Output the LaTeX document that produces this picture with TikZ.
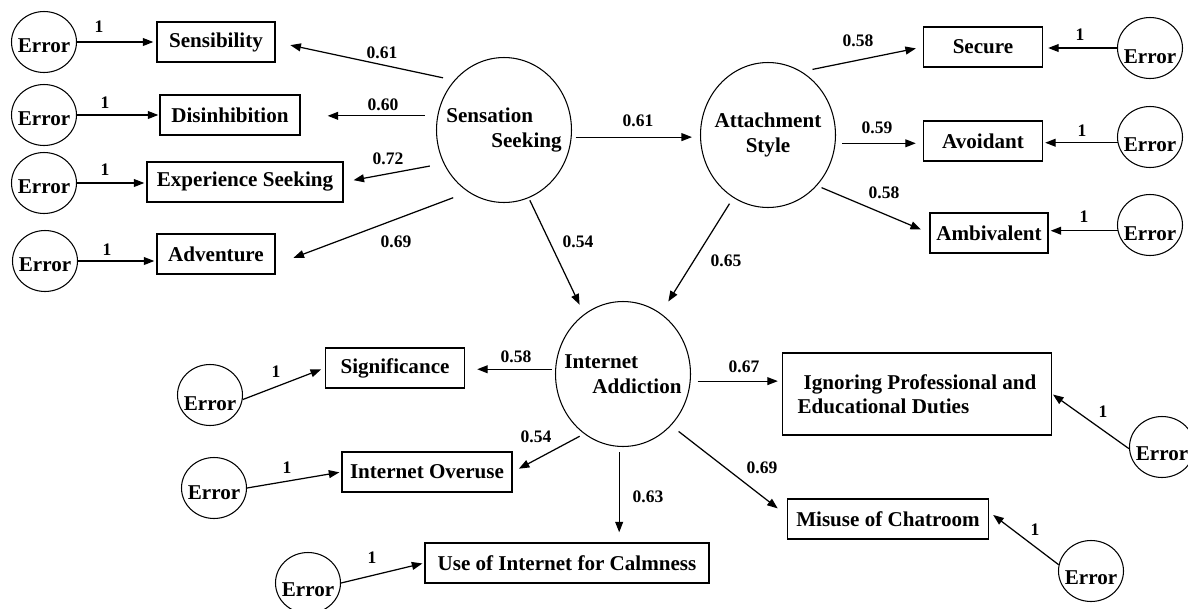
\documentclass[tikz,border=0pt]{standalone}
\usepackage{fontspec}
\setmainfont{Liberation Serif}
\usetikzlibrary{shapes.geometric,arrows.meta}

\tikzset{
  box/.style={draw, line width=0.8pt, rectangle, minimum height=0.8cm, inner sep=2pt, font=\fontsize{12}{14}\selectfont\bfseries},
  lat/.style={draw, line width=0.6pt, ellipse, minimum width=2.7cm, minimum height=2.9cm, inner sep=0pt},
  lattxt/.style={font=\fontsize{12}{14}\selectfont\bfseries, inner sep=0pt},
  err/.style={draw, line width=0.6pt, ellipse, minimum width=1.3cm, minimum height=1.22cm, inner sep=0pt, font=\fontsize{12}{14}\selectfont\bfseries},
  coef/.style={font=\fontsize{10}{12}\selectfont\bfseries, inner sep=0pt},
  arr/.style={line width=0.7pt, -{Triangle[length=6pt,width=4.5pt]}}
}
% text of an error term, lowered a little
\newcommand{\errtxt}[1][-0.2cm]{\raisebox{#1}[0pt][0pt]{\makebox[0pt]{Error}}}

\begin{document}
\begin{tikzpicture}[x=0.02cm, y=-0.02cm]
\useasboundingbox (0,0) rectangle (1188,609);

% latent variables
\node [lat, label={[lattxt, align=left]center:{Sensation\\\hspace*{0.9cm}Seeking}}] (ss) at (504,130) {};
\node [lat, label={[lattxt, align=center]center:{Attachment\\Style}}] (as) at (768,135) {};
\node [lat, label={[lattxt, align=left]center:{Internet\\\hspace*{0.56cm}Addiction}}] (ia) at (623,374) {};

% indicators
\node [box, minimum width=2.36cm] (sens) at (216,42) {Sensibility};
\node [box, minimum width=2.8cm] (dis) at (230,115) {Disinhibition};
\node [box, minimum width=3.92cm] (es) at (245,182) {Experience Seeking};
\node [box, minimum width=2.36cm] (adv) at (216,254) {Adventure};

\node [box, minimum width=2.38cm] (sec) at (983,47) {Secure};
\node [box, minimum width=2.38cm] (avo) at (983,141) {Avoidant};
\node [box, minimum width=2.36cm] (amb) at (989,233) {Ambivalent};

\node [box, minimum width=2.78cm] (sig) at (395,368) {Significance};
\node [box, minimum width=3.4cm] (ov) at (427,472) {Internet Overuse};
\node [box, minimum width=5.68cm] (calm) at (567,563) {Use of Internet for Calmness};
\node [box, minimum width=5.38cm, minimum height=1.64cm, align=left] (ign) at (917,394) {\hspace*{0.12cm}Ignoring Professional and\\Educational Duties};
\node [box, minimum width=4.02cm] (mis) at (888,519) {Misuse of Chatroom};

% error terms
\node [err] (el1) at (44,42) {\errtxt};
\node [err] (el2) at (44,115) {\errtxt};
\node [err] (el3) at (44,183) {\errtxt};
\node [err] (el4) at (45,261) {\errtxt};

\node [err] (er1) at (1150,48) {\errtxt[-0.3cm]};
\node [err] (er2) at (1150,137) {\errtxt[-0.28cm]};
\node [err] (er3) at (1150,225) {\errtxt[-0.3cm]};

\node [err] (es1) at (210,395) {\errtxt[-0.3cm]};
\node [err] (es2) at (214,488) {\errtxt[-0.22cm]};
\node [err] (es3) at (308,583) {\errtxt[-0.26cm]};
\node [err] (es4) at (1162,447) {\errtxt[-0.26cm]};
\node [err] (es5) at (1091,571) {\errtxt[-0.26cm]};

% % % % % % % % % % % % % % % % % % % % % % % % % %

\draw [arr, shorten <=0.23cm, shorten >=0.3cm] (ss.135) -- (sens.east);
\draw [arr, shorten <=0.25cm, shorten >=0.54cm] (ss.168) -- (ss.168 -| dis.east);
\draw [arr, shorten <=0.28cm, shorten >=0.2cm] (ss.209) -- (es.east);
\draw [arr, shorten <=0.32cm, shorten >=0.38cm] (ss.240) -- (adv.-10);
\draw [arr, shorten <=0.08cm, shorten >=0.16cm] (ss.-6) -- (ss.-6 -| as.west);
\draw [arr, shorten <=0.05cm, shorten >=0.21cm] (ss.-70) -- (ia.123);

\draw [arr, shorten <=0.14cm, shorten >=0.28cm] (as.241) -- (ia.58);
\draw [arr, shorten <=0.22cm, shorten >=0.14cm] (as.62) -- (sec.west);
\draw [arr, shorten <=0.13cm, shorten >=0.14cm] (as.-7) -- (as.-7 -| avo.west);
\draw [arr, shorten <=0.1cm, shorten >=0.18cm] (as.-46) -- (amb.west);

\draw [arr, shorten <=0.07cm, shorten >=0.24cm] (ia.176) -- (ia.176 -| sig.east);
\draw [arr, shorten <=0.1cm, shorten >=0.14cm] (ia.237) -- (ov.east);
\draw [arr, shorten <=0.11cm, shorten >=0.2cm] (ia.267) -- (ia.267 |- calm.north);
\draw [arr, shorten <=0.14cm, shorten >=0.08cm] (ia.-6) -- (ia.-6 -| ign.west);
\draw [arr, shorten <=0.19cm, shorten >=0.23cm] (ia.-47) -- (mis.178);

\draw [arr, shorten >=0.06cm] (el1.east) -- (el1.east -| sens.west);
\draw [arr, shorten >=0.02cm] (el2.east) -- (el2.east -| dis.west);
\draw [arr, shorten >=0.04cm] (el3.east) -- (el3.east -| es.west);
\draw [arr, shorten >=0.04cm] (el4.east) -- (el4.east -| adv.west);

\draw [arr, shorten >=0.1cm] (er1.west) -- (er1.west -| sec.east);
\draw [arr, shorten >=0.04cm] (er2.190) -- (er2.190 -| avo.east);
\draw [arr, shorten >=0.04cm] (er3.190) -- (er3.190 -| amb.east);

\draw [arr, shorten >=0.08cm] (es1.-8) -- (sig.west);
\draw [arr, shorten >=0.04cm] (es2.east) -- (ov.west);
\draw [arr, shorten >=0.04cm] (es3.east) -- (calm.west);
\draw [arr, shorten >=0.02cm] (es4.183) -- (ign.east);
\draw [arr, shorten >=0.1cm] (es5.169) -- (mis.4);

% coefficients
\node [coef] (c-sens) at (382,53) {0.61};
\node [coef] (c-dis) at (383,105) {0.60};
\node [coef] (c-es) at (388,159) {0.72};
\node [coef] (c-adv) at (396,242) {0.69};
\node [coef] (c-as) at (638,121) {0.61};
\node [coef] (c-ssia) at (578,242) {0.54};
\node [coef] (c-asia) at (726,261) {0.65};
\node [coef] (c-sec) at (858,41) {0.58};
\node [coef] (c-avo) at (877,128) {0.59};
\node [coef] (c-amb) at (884,193) {0.58};
\node [coef] (c-sig) at (516,357) {0.58};
\node [coef] (c-ov) at (536,437) {0.54};
\node [coef] (c-calm) at (648,497) {0.63};
\node [coef] (c-ign) at (744,367) {0.67};
\node [coef] (c-mis) at (762,468) {0.69};

\node [coef] (o-el1) at (99,27) {1};
\node [coef] (o-el2) at (105,103) {1};
\node [coef] (o-el3) at (105,170) {1};
\node [coef] (o-el4) at (107,250) {1};
\node [coef] (o-er1) at (1080,35) {1};
\node [coef] (o-er2) at (1082,131) {1};
\node [coef] (o-er3) at (1084,217) {1};
\node [coef] (o-es1) at (276,372) {1};
\node [coef] (o-es2) at (287,468) {1};
\node [coef] (o-es3) at (372,558) {1};
\node [coef] (o-es4) at (1103,412) {1};
\node [coef] (o-es5) at (1035,530) {1};
\end{tikzpicture}
\end{document}
